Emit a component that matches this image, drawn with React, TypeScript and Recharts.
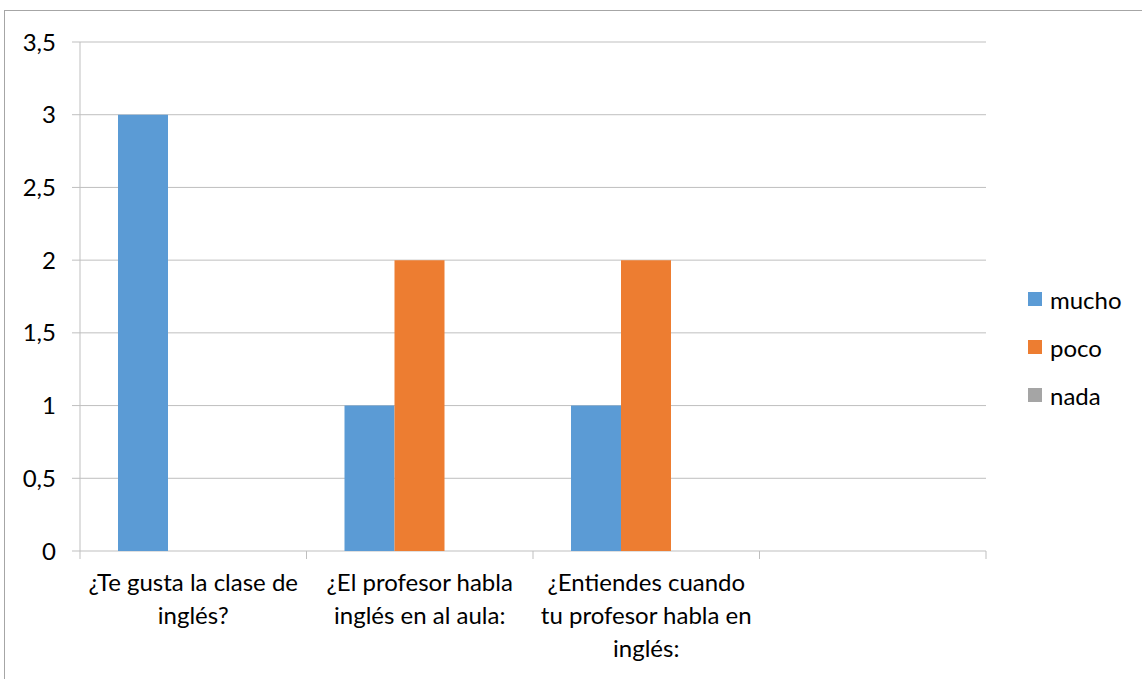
import { BarChart, Bar, XAxis, YAxis, CartesianGrid } from 'recharts';

const categories = [
  '¿Te gusta la clase de\ninglés?',
  '¿El profesor habla\ninglés en al aula:',
  '¿Entiendes cuando\ntu profesor habla en\ninglés:',
  '',
];
const mucho = [3, 1, 1, 0];
const poco = [0, 2, 2, 0];
const nada = [0, 0, 0, 0];
const yTicks = [0, 0.5, 1, 1.5, 2, 2.5, 3, 3.5];

const series = [
  { key: 'mucho', label: 'mucho', color: '#5B9BD5' },
  { key: 'poco', label: 'poco', color: '#ED7D31' },
  { key: 'nada', label: 'nada', color: '#A5A5A5' },
];

const data = categories.map((name, i) => ({
  name,
  mucho: mucho[i],
  poco: poco[i],
  nada: nada[i],
}));

const FONT = 'Lato, "Open Sans", sans-serif';
const FS = 24;
const AXIS = '#BFBFBF';

// label lines centred in the band, tick marks on the band edges (Excel style)
const CategoryTick = ({
  x,
  y,
  payload,
  index,
}: {
  x?: number;
  y?: number;
  index?: number;
  payload?: { value: string; offset?: number };
}) => {
  const lines = (payload?.value || '').split('\n');
  const half = payload?.offset || 0;
  const last = index === categories.length - 1;
  return (
    <g>
      <line x1={x! - half} x2={x! - half} y1={y} y2={y! + 8} stroke={AXIS} />
      {last && <line x1={x! + half} x2={x! + half} y1={y} y2={y! + 8} stroke={AXIS} />}
      <text x={x} y={y} textAnchor="middle" fontFamily={FONT} fontSize={FS} fill="#000">
        {lines.map((line, i) => (
          <tspan key={i} x={x} dy={i === 0 ? 40 : 33}>
            {line}
          </tspan>
        ))}
      </text>
    </g>
  );
};

export default function App() {
  return (
    <div style={{ position: 'absolute', left: 0, top: 0, width: 1142, height: 679, overflow: 'hidden', background: '#fff' }}>
      <div
        style={{
          position: 'absolute',
          left: 4,
          top: 10,
          width: 1200,
          height: 720,
          border: '1px solid #A6A6A6',
        }}
      />
      <BarChart
        width={1142}
        height={679}
        data={data}
        margin={{ top: 42, right: 156, bottom: 0, left: 0 }}
        barCategoryGap={38}
        barGap={0}
        style={{ position: 'absolute', left: 0, top: 0 }}
      >
        <CartesianGrid vertical={false} stroke={AXIS} strokeWidth={1} />
        <XAxis
          dataKey="name"
          tickLine={false}
          axisLine={false}
          tickSize={0}
          tickMargin={0}
          interval={0}
          tick={<CategoryTick />}
          height={128}
        />
        <YAxis
          width={80}
          domain={[0, 3.5]}
          ticks={yTicks}
          tickFormatter={(v: number) => String(v).replace('.', ',')}
          tickSize={8}
          tickMargin={16}
          tick={{ fontFamily: FONT, fontSize: FS, fill: '#000' }}
          stroke={AXIS}
        />
        {series.map((s) => (
          <Bar key={s.key} dataKey={s.key} fill={s.color} isAnimationActive={false} />
        ))}
      </BarChart>
      <div style={{ position: 'absolute', left: 1028, top: 275 }}>
        {series.map((s) => (
          <div key={s.key} style={{ display: 'flex', alignItems: 'center', height: 48, fontFamily: FONT, fontSize: FS }}>
            <span style={{ width: 14, height: 14, background: s.color, marginRight: 8, display: 'inline-block' }} />
            <span>{s.label}</span>
          </div>
        ))}
      </div>
    </div>
  );
}
